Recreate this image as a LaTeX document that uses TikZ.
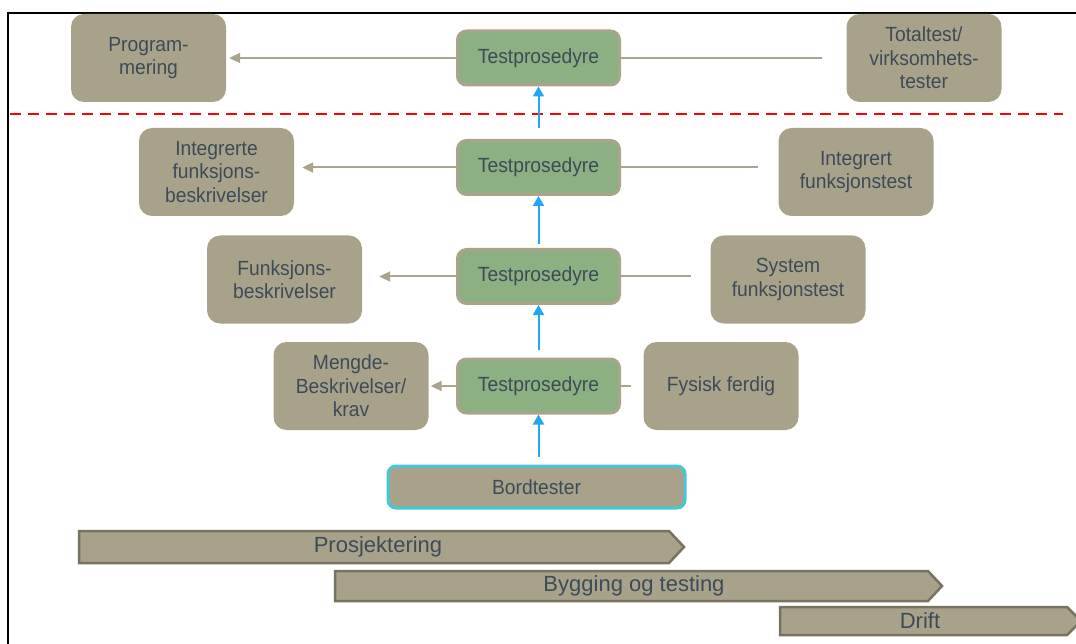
\documentclass[tikz,border=0pt]{standalone}
\usepackage{fontspec}
\setmainfont{Liberation Sans}[FakeStretch=0.94]
\newfontfamily\barfont{Liberation Sans}
\usetikzlibrary{arrows.meta}
\definecolor{boxgray}{HTML}{A9A28B}
\definecolor{boxedge}{HTML}{ABA48D}
\definecolor{testgreen}{HTML}{8CB082}
\definecolor{txtcol}{HTML}{3D4B59}
\definecolor{upblue}{HTML}{22A8F2}
\definecolor{bordedge}{HTML}{44C7DA}
\definecolor{baredge}{HTML}{787261}

\begin{document}
\begin{tikzpicture}[x={(1pt,0)},y={(0,-1pt)},
    every node/.style={text=txtcol,font=\fontsize{20.5}{23.5}\selectfont,align=center},
    graybox/.style={fill=boxgray,rounded corners=13pt,minimum width=155pt,minimum height=88pt,inner sep=0pt},
    testbox/.style={fill=testgreen,draw=boxedge,line width=3pt,rounded corners=9pt,minimum width=162pt,minimum height=54pt,inner sep=0pt},
    toleft/.style={draw=boxedge,line width=2pt,-{Triangle[length=11pt,width=10pt]}},
    toright/.style={draw=boxedge,line width=2pt},
    upward/.style={draw=upblue,line width=2pt,-{Triangle[length=10pt,width=11pt]}},
    phasebar/.style={fill=boxgray,draw=baredge,line width=2.5pt,line join=miter},
    phasetext/.style={font=\barfont\fontsize{22}{26}\selectfont}]
    \useasboundingbox (0,0) rectangle (1076,644);
    \draw[line width=2.5pt] (8,644) -- (8,13) -- (1076,13);
    \draw[red,line width=2.8pt,dash pattern=on 11pt off 7pt] (10,114) -- (1063,114);
    \node[graybox] (prog) at (148.5,58) {Program-\\mering};
    \node[testbox] (tp1) at (538.5,58) {Testprosedyre};
    \node[graybox] (tot) at (924,58) {Totaltest/\\virksomhets-\\tester};
    \node[graybox] (intf) at (216.5,172) {Integrerte\\funksjons-\\beskrivelser};
    \node[testbox] (tp2) at (538.5,167.5) {Testprosedyre};
    \node[graybox] (intt) at (856,172) {Integrert\\funksjonstest};
    \node[graybox] (funk) at (284.5,279.5) {Funksjons-\\beskrivelser};
    \node[testbox] (tp3) at (538.5,276.5) {Testprosedyre};
    \node[graybox] (sys) at (788,279.5) {System\\funksjonstest};
    \node[graybox] (meng) at (351,386) {Mengde-\\Beskrivelser/\\krav};
    \node[testbox] (tp4) at (538.5,386) {Testprosedyre};
    \node[graybox] (fys) at (721,386) {Fysisk ferdig};
    \node[fill=boxgray,draw=bordedge,line width=3pt,rounded corners=8pt,minimum width=297pt,minimum height=42pt] (bord) at (536.5,487) {Bordtester};
    \draw[toleft] (tp1.west) -- ([xshift=3pt]prog.east |- tp1.west);
    \draw[toleft] (tp2.west) -- ([xshift=8pt]intf.east |- tp2.west);
    \draw[toleft] (tp3.west) -- ([xshift=17pt]funk.east |- tp3.west);
    \draw[toleft] (tp4.west) -- ([xshift=2pt]meng.east |- tp4.west);
    \draw[toright] (tp1.east) -- ([xshift=-24pt]tot.west |- tp1.east);
    \draw[toright] (tp2.east) -- ([xshift=-20pt]intt.west |- tp2.east);
    \draw[toright] (tp3.east) -- ([xshift=-19pt]sys.west |- tp3.east);
    \draw[toright] (tp4.east) -- ([xshift=-12pt]fys.west |- tp4.east);
    \draw[upward] ([yshift=8pt]tp4.south |- bord.north) -- (tp4.south);
    \draw[upward] ([yshift=8pt]tp4.north) -- (tp3.south);
    \draw[upward] ([yshift=4pt]tp3.north) -- (tp2.south);
    \draw[upward] ([yshift=11pt]tp2.north) -- (tp1.south);
    \draw[phasebar] (79,531) -- (669,531) -- (684,547) -- (669,563) -- (79,563) -- cycle;
    \node[phasetext] (proj) at (378,547) {Prosjektering};
    \draw[phasebar] (335,571) -- (928,571) -- (942,586) -- (928,601) -- (335,601) -- cycle;
    \node[phasetext] (bygg) at (634,586) {Bygging og testing};
    \draw[phasebar] (780,607) -- (1067,607) -- (1081,621) -- (1067,635) -- (780,635) -- cycle;
    \node[phasetext] (drift) at (920,621) {Drift};
\end{tikzpicture}
\end{document}
